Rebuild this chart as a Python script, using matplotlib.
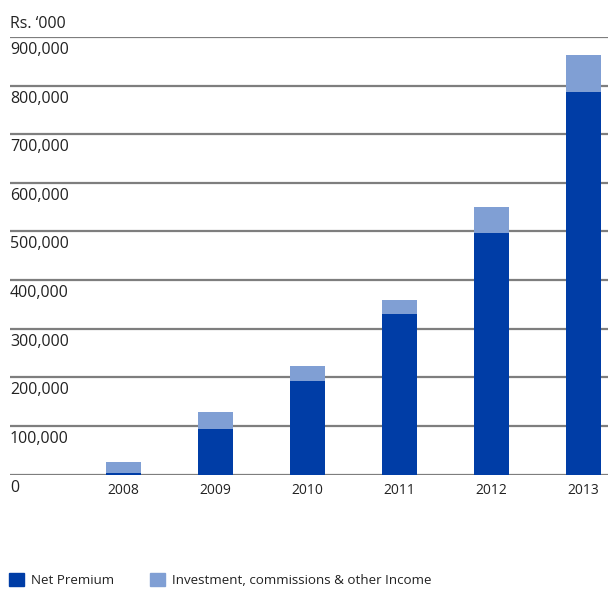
import matplotlib
matplotlib.use("Agg")
import matplotlib.pyplot as plt
import matplotlib.transforms as mtransforms
from matplotlib.patches import Patch

years = ["2008", "2009", "2010", "2011", "2012", "2013"]
net_premium = [3000, 93000, 193000, 330000, 497000, 786000]
other_income = [23000, 36000, 30000, 29000, 53000, 77000]
yticks = [0, 100000, 200000, 300000, 400000, 500000, 600000, 700000, 800000, 900000]
ylabels = ["0", "100,000", "200,000", "300,000", "400,000", "500,000",
           "600,000", "700,000", "800,000", "900,000"]
unit_label = "Rs. \u2018000"
legend_labels = ["Net Premium", "Investment, commissions & other Income"]

dark = "#003DA6"
light = "#809FD4"
grid = "#7E7E7E"

plt.rcParams['font.family'] = ['Open Sans', 'DejaVu Sans']

W, H = 608, 589
fig = plt.figure(figsize=(W / 100, H / 100), dpi=100)
ax_left, ax_right, ax_bottom, ax_top = 10, 608, 474.5, 37
ax = fig.add_axes([ax_left / W, 1 - ax_bottom / H, (ax_right - ax_left) / W, (ax_bottom - ax_top) / H])

x = list(range(len(years)))
ax.bar(x, net_premium, width=0.38, color=dark, zorder=3)
ax.bar(x, other_income, width=0.38, bottom=net_premium, color=light, zorder=3)

ax.set_xlim(-1.234, 5.266)
ax.set_ylim(0, 900000)

for t in yticks:
    ax.axhline(t, color=grid, lw=1.6, zorder=1)

for s in ax.spines.values():
    s.set_visible(False)
ax.set_yticks([])
ax.set_xticks(x)
ax.set_xticklabels(years, fontsize=10, color="#222222")
ax.tick_params(axis='x', length=0, pad=6)

trans = mtransforms.blended_transform_factory(ax.transAxes, ax.transData)
off = mtransforms.ScaledTranslation(0, -5 / 100, fig.dpi_scale_trans)
for t, lab in zip(yticks, ylabels):
    ax.text(0, t, lab, transform=trans + off, ha='left', va='top',
            fontsize=11.5, color="#222222")

fig.text(10 / W, 1 - 28 / H, unit_label, ha='left', va='baseline',
         fontsize=11.5, color="#222222")

handles = [Patch(color=dark), Patch(color=light)]
fig.legend(handles, legend_labels, loc='lower left',
           bbox_to_anchor=(-3 / W, 1 - 599 / H), ncol=2, frameon=False,
           fontsize=9.6, handlelength=1.15, handleheight=1.15, handletextpad=0.5,
           columnspacing=2.7, labelcolor="#222222")

fig.savefig("out.png", dpi=100)
